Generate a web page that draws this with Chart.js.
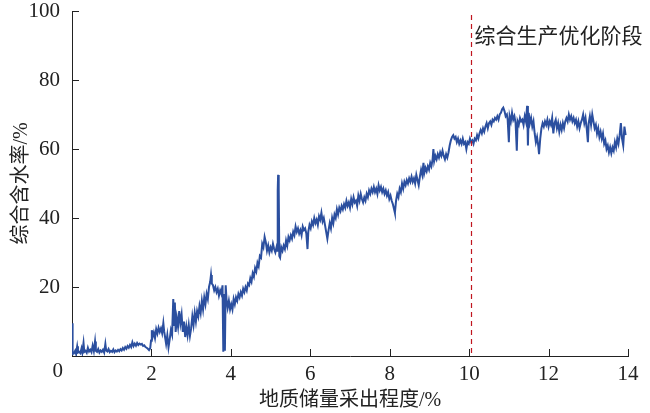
<!DOCTYPE html>
<html>
<head>
<meta charset="utf-8">
<script src="https://cdn.jsdelivr.net/npm/chart.js@4.4.1/dist/chart.umd.min.js"></script>
<style>
  html, body { margin: 0; padding: 0; background: #fff; }
  #wrap { width: 650px; height: 413px; }
</style>
</head>
<body>
<div id="wrap"><canvas id="c" width="650" height="413"></canvas></div>
<script>
// recovery degree (%) / water cut (%)
const recovery = [
  0.00,0.01,0.02,0.05,0.08,0.10,0.13,0.15,0.18,0.21,0.24,0.26,0.29,0.31,0.34,0.37,0.40,0.43,0.46,0.49,
  0.52,0.55,0.58,0.60,0.63,0.66,0.69,0.72,0.75,0.78,0.81,0.84,0.86,0.89,0.92,0.95,0.98,1.01,1.04,1.07,
  1.10,1.13,1.16,1.19,1.22,1.25,1.28,1.31,1.34,1.37,1.40,1.43,1.46,1.49,1.52,1.55,1.58,1.61,1.64,1.67,
  1.70,1.73,1.76,1.79,1.82,1.85,1.88,1.91,1.94,1.97,1.99,
  2.01,2.03,2.06,2.09,2.12,2.15,2.18,2.21,2.24,2.27,2.30,2.32,2.35,2.37,2.40,2.43,2.46,2.49,2.52,2.55,
  2.57,2.59,2.61,2.64,2.67,2.70,2.73,2.76,2.79,2.82,2.85,2.88,2.91,2.94,2.97,3.00,3.03,3.06,3.09,3.12,
  3.15,3.18,3.21,3.24,3.27,3.30,3.33,3.36,3.39,3.42,3.45,3.48,3.50,3.52,3.55,3.58,3.61,3.64,3.67,3.70,
  3.73,3.76,3.79,3.81,3.83,3.85,3.87,3.89,3.92,3.95,3.98,4.01,
  4.04,4.07,4.10,4.13,4.16,4.19,4.22,4.25,4.28,4.31,4.34,4.37,4.40,4.43,4.46,4.49,4.52,4.55,4.58,4.61,
  4.64,4.67,4.70,4.73,4.76,4.79,4.82,4.85,4.88,4.91,4.94,4.97,5.00,5.03,5.06,5.09,5.12,5.15,5.17,5.18,
  5.19,5.20,5.21,5.22,5.24,5.27,5.30,5.33,5.36,5.39,5.42,5.45,5.48,5.51,5.54,5.57,5.60,5.63,5.66,5.69,
  5.72,5.75,5.78,5.81,5.84,5.87,5.90,5.93,5.95,5.98,6.01,6.04,6.07,6.10,6.13,6.16,6.19,6.22,6.25,6.28,
  6.31,6.34,6.37,6.40,6.43,6.46,6.49,6.52,
  6.55,6.58,6.61,6.64,6.67,6.70,6.73,6.76,6.79,6.82,6.85,6.88,6.91,6.94,6.97,7.00,7.03,7.06,7.09,7.12,
  7.15,7.18,7.21,7.24,7.27,7.30,7.33,7.36,7.39,7.42,7.45,7.48,7.51,7.54,7.57,7.60,7.63,7.66,7.69,7.72,
  7.75,7.78,7.81,7.84,7.87,7.90,7.93,7.96,7.99,8.02,8.05,8.08,8.11,8.13,8.16,8.19,8.22,8.25,8.28,8.31,
  8.34,8.37,8.40,8.43,8.46,8.49,
  8.52,8.55,8.58,8.61,8.64,8.67,8.70,8.73,8.76,8.79,8.82,8.85,8.87,8.90,8.93,8.96,8.99,9.02,9.05,9.08,
  9.10,9.12,9.15,9.18,9.21,9.24,9.27,9.30,9.33,9.36,9.39,9.42,9.45,9.48,9.51,9.54,9.57,9.60,9.63,9.66,
  9.69,9.72,9.75,9.78,9.81,9.84,9.87,9.90,9.93,9.96,9.99,10.02,10.05,10.08,10.11,10.14,10.17,10.20,10.23,10.26,
  10.29,10.32,10.35,10.38,10.41,10.44,10.47,10.50,
  10.53,10.56,10.59,10.62,10.65,10.68,10.71,10.74,10.77,10.80,10.83,10.86,10.89,10.92,10.95,10.97,11.00,11.02,11.05,11.08,
  11.11,11.14,11.17,11.20,11.22,11.25,11.28,11.31,11.34,11.37,11.40,11.43,11.46,11.48,11.50,11.53,11.56,11.59,11.62,11.65,
  11.68,11.71,11.74,11.76,11.79,11.82,11.85,11.88,11.91,11.94,11.97,12.00,12.03,12.06,12.09,12.12,12.15,12.18,12.21,12.24,
  12.27,12.30,12.33,12.36,12.39,12.42,12.45,12.48,12.51,12.54,12.57,12.60,12.63,12.66,12.69,12.72,12.75,12.78,12.81,12.84,
  12.87,12.90,12.93,12.96,12.99,13.01,13.04,13.07,13.10,13.13,13.16,13.19,13.22,13.25,13.28,13.31,13.34,13.37,13.40,13.43,
  13.46,13.49,13.52,13.55,13.58,13.61,13.64,13.67,13.70,13.73,13.76,13.79,13.82,13.85,13.88,13.91,13.94
];

const waterCut = [
  0.5,9.5,1.0,0.8,1.5,0.7,2.8,1.0,1.2,0.8,2.2,1.0,3.8,1.2,1.5,0.9,2.4,1.3,1.8,1.1,
  3.0,1.4,4.2,1.5,1.2,2.0,1.0,1.6,1.2,1.8,1.0,3.5,1.6,1.3,2.0,1.1,1.5,1.2,1.9,1.1,
  1.6,1.3,1.8,1.4,2.0,1.6,2.3,1.8,2.6,2.1,2.9,2.4,3.2,2.6,4.0,2.9,3.6,3.0,3.8,3.2,
  3.6,3.3,3.5,2.9,3.1,2.6,2.4,2.1,1.7,2.3,4.5,
  7.5,5.5,6.8,5.2,7.8,6.5,8.2,7.0,8.0,6.6,9.5,7.2,5.0,3.5,6.0,2.5,4.8,7.5,6.2,16.5,
  9.0,15.5,7.0,11.0,8.5,13.0,9.5,12.0,7.0,10.0,5.5,8.5,6.0,9.0,5.8,8.0,11.5,9.0,12.5,10.0,
  13.0,11.5,14.5,12.5,16.0,13.5,17.0,15.0,18.0,16.5,20.0,21.5,23.5,21.0,20.5,19.0,20.0,18.5,19.5,17.5,
  19.0,18.0,20.5,1.2,18.0,1.5,20.5,16.5,14.0,16.0,13.5,15.0,
  13.5,16.5,15.0,17.0,16.0,18.0,17.0,18.5,17.5,19.5,18.5,20.0,19.0,21.0,20.5,22.5,21.5,24.0,23.0,25.5,
  24.5,27.0,26.0,29.0,28.5,32.5,31.5,34.5,33.0,30.5,32.0,30.0,31.5,30.5,32.5,31.0,30.0,31.5,30.5,48.0,
  52.5,50.0,48.5,29.0,28.5,31.5,30.5,32.0,31.0,33.5,32.0,34.5,33.5,35.0,34.0,36.0,35.0,37.5,36.0,37.0,
  35.5,36.5,35.0,37.5,36.5,37.0,35.5,31.0,36.0,38.0,37.0,39.0,38.0,40.0,38.5,39.5,38.0,40.5,39.5,41.5,
  39.0,40.0,38.0,36.0,34.0,36.5,38.5,37.0,
  40.0,38.5,41.0,40.0,42.5,41.0,43.0,42.0,43.5,42.5,44.0,43.0,45.0,43.5,44.5,43.0,45.5,44.0,46.0,44.5,
  45.0,43.5,46.5,45.0,47.0,45.5,44.5,46.0,45.0,47.0,46.0,48.0,47.0,48.5,47.5,49.0,47.5,48.5,47.0,49.5,
  48.0,49.0,47.5,48.5,47.0,48.0,46.5,47.5,45.5,46.5,45.0,44.0,42.5,41.5,45.0,47.0,46.0,48.5,47.5,50.0,
  48.5,50.5,49.5,51.0,50.0,51.5,
  50.5,52.0,50.5,51.5,50.0,52.5,51.0,49.5,52.0,54.0,52.5,56.0,53.0,54.5,53.5,55.0,54.0,56.0,55.0,57.0,
  60.0,56.5,58.0,57.0,58.5,57.5,59.0,58.0,59.5,58.0,57.0,58.5,57.5,59.0,61.0,62.5,63.5,64.0,63.0,63.5,
  62.0,63.0,61.5,62.5,61.5,63.0,61.5,62.0,60.0,62.0,61.5,63.0,62.0,62.5,61.5,63.0,62.5,64.0,63.0,64.5,
  65.5,64.5,66.0,65.0,66.5,67.5,66.0,67.5,
  68.0,67.0,68.5,68.0,69.0,68.5,69.5,68.5,70.0,70.5,71.5,72.0,71.0,69.5,70.0,68.5,62.0,69.5,68.0,70.5,
  68.5,69.5,67.5,59.5,68.0,67.0,69.0,68.0,68.5,67.0,69.5,68.0,72.5,61.0,70.5,67.5,69.0,66.5,68.0,64.5,
  62.0,63.5,61.0,58.5,63.0,66.0,67.5,66.5,68.0,67.0,68.5,66.5,68.0,67.0,69.0,64.5,67.5,68.5,66.0,67.5,
  65.0,67.0,65.5,67.5,66.0,68.0,69.0,68.0,70.0,68.5,69.5,68.0,69.0,67.5,68.5,66.5,68.0,66.0,67.5,68.5,
  70.0,67.5,69.0,66.0,62.0,67.5,69.5,67.0,70.0,68.0,66.0,67.0,64.5,66.0,63.5,65.0,63.0,64.5,61.5,62.5,
  60.0,61.0,59.0,60.5,58.8,60.5,59.5,62.0,60.5,63.0,61.5,64.0,67.5,63.0,61.0,66.5,64.0
];

const xTicks = [0, 2, 4, 6, 8, 10, 12, 14];
const yTicks = [0, 20, 40, 60, 80, 100];
const stageStart = 10.05;
const stageLabel = "综合生产优化阶段";
const xTitle = "地质储量采出程度/%";
const yTitle = "综合含水率/%";

const FONT = "'Liberation Serif', 'Noto Sans CJK SC', serif";

// inward tick marks, dashed stage line, stage label and shared origin "0"
const extras = {
  id: "extras",
  afterDraw(chart) {
    const ctx = chart.ctx;
    const xs = chart.scales.x, ys = chart.scales.y;
    const area = chart.chartArea;
    ctx.save();
    ctx.strokeStyle = "#222";
    ctx.lineWidth = 1;
    xTicks.forEach(v => {
      if (v === 0) return;
      const px = Math.round(xs.getPixelForValue(v)) + 0.5;
      ctx.beginPath();
      ctx.moveTo(px, area.bottom);
      ctx.lineTo(px, area.bottom - 7);
      ctx.stroke();
    });
    yTicks.forEach(v => {
      if (v === 0) return;
      const py = Math.round(ys.getPixelForValue(v)) + 0.5;
      ctx.beginPath();
      ctx.moveTo(area.left, py);
      ctx.lineTo(area.left + 7, py);
      ctx.stroke();
    });

    const sx = Math.round(xs.getPixelForValue(stageStart)) + 0.5;
    ctx.strokeStyle = "#c0161f";
    ctx.lineWidth = 1.2;
    ctx.setLineDash([5, 4]);
    ctx.beginPath();
    ctx.moveTo(sx, area.top + 4);
    ctx.lineTo(sx, area.bottom);
    ctx.stroke();
    ctx.setLineDash([]);

    ctx.fillStyle = "#222";
    ctx.font = "21px " + FONT;
    ctx.textBaseline = "middle";
    ctx.textAlign = "left";
    ctx.fillText(stageLabel, sx + 3, 37);

    ctx.font = "21px " + FONT;
    ctx.textAlign = "right";
    ctx.fillText("0", area.left - 9, area.bottom + 15);
    ctx.restore();
  }
};

const points = recovery.map((x, i) => ({ x, y: waterCut[i] }));

new Chart(document.getElementById("c").getContext("2d"), {
  type: "line",
  data: {
    datasets: [{
      data: points,
      borderColor: "#2b4f9f",
      borderWidth: 2,
      pointRadius: 0,
      tension: 0,
      fill: false,
    }],
  },
  options: {
    responsive: false,
    animation: false,
    events: [],
    layout: { padding: { top: 11, right: 22, left: 0, bottom: 0 } },
    plugins: {
      legend: { display: false },
      tooltip: { enabled: false },
    },
    scales: {
      x: {
        type: "linear",
        min: 0,
        max: 14,
        afterFit: s => { s.height = 57; s.paddingLeft = 0; s.paddingRight = 0; },
        afterBuildTicks: s => { s.ticks = xTicks.map(v => ({ value: v })); },
        grid: { display: false, drawTicks: false },
        border: { display: true, color: "#222", width: 1 },
        ticks: {
          padding: 6,
          color: "#222",
          font: { family: FONT, size: 21 },
          maxRotation: 0,
          callback: v => (v === 0 ? "" : v),
        },
        title: {
          display: true,
          text: xTitle,
          color: "#222",
          font: { family: FONT, size: 20 },
          padding: { top: 0, bottom: 0 },
        },
      },
      y: {
        min: 0,
        max: 100,
        afterFit: s => { s.width = 72; s.paddingTop = 0; s.paddingBottom = 0; },
        afterBuildTicks: s => { s.ticks = yTicks.map(v => ({ value: v })); },
        grid: { display: false, drawTicks: false },
        border: { display: true, color: "#222", width: 1 },
        ticks: {
          padding: 12,
          color: "#222",
          font: { family: FONT, size: 21 },
          callback: v => (v === 0 ? "" : v),
        },
        title: {
          display: true,
          text: yTitle,
          color: "#222",
          font: { family: FONT, size: 20 },
          padding: { top: 10, bottom: 0 },
        },
      },
    },
  },
  plugins: [extras],
});
</script>
</body>
</html>
